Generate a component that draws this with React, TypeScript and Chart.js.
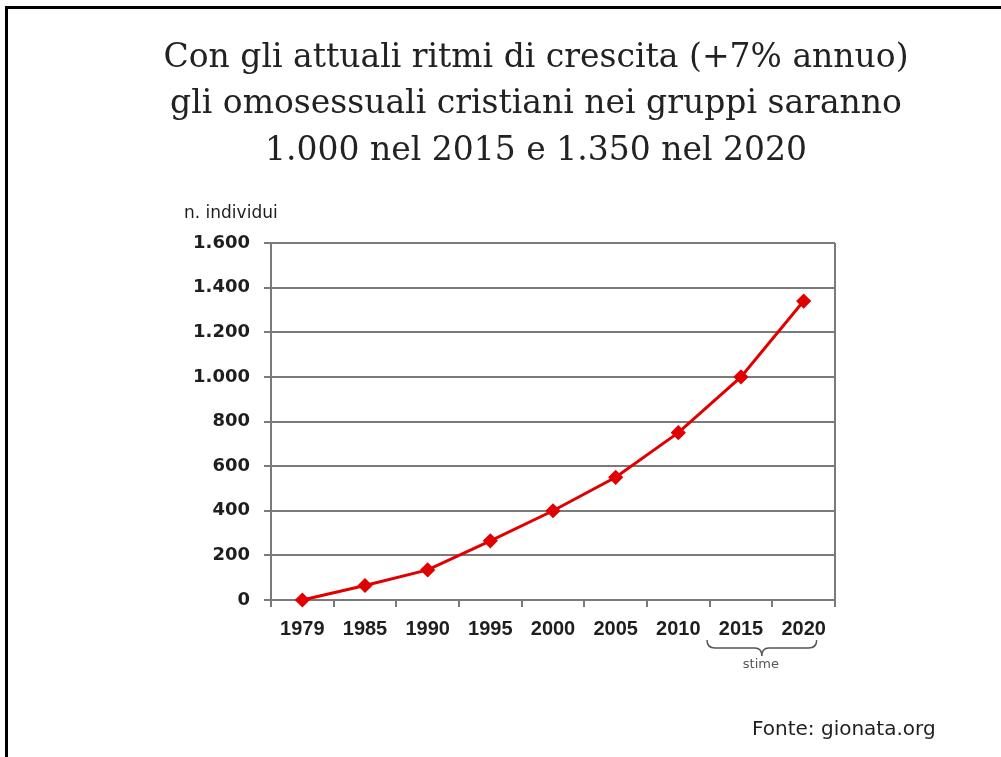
import React, { useEffect, useRef } from "react";
import { Chart, registerables } from "chart.js";

Chart.register(...registerables);

const years = ["1979", "1985", "1990", "1995", "2000", "2005", "2010", "2015", "2020"];
const individuals = [0, 65, 135, 265, 400, 550, 750, 1000, 1340];
const titleLines = [
  "Con gli attuali ritmi di crescita (+7% annuo)",
  "gli omosessuali cristiani nei gruppi saranno",
  "1.000 nel 2015 e 1.350 nel 2020",
];
const yAxisTitle = "n. individui";
const estimateLabel = "stime";
const estimateYears = ["2015", "2020"];
const sourceText = "Fonte: gionata.org";
const yMin = 0;
const yMax = 1600;
const yStep = 200;

const fmt = (v: number) => String(v).replace(/\B(?=(\d{3})+(?!\d))/g, ".");

const GRID = "#7a7a7a";
const TEXT = "#1e1e1e";

const decorPlugin = {
  id: "decor",
  afterDraw(chart: any) {
    const ctx = chart.ctx as CanvasRenderingContext2D;
    const { top, bottom, right } = chart.chartArea;
    const xs = chart.scales.x;
    ctx.save();
    // right frame of the plot area
    ctx.strokeStyle = GRID;
    ctx.lineWidth = 2;
    ctx.beginPath();
    ctx.moveTo(right, top);
    ctx.lineTo(right, bottom);
    ctx.stroke();

    // title
    ctx.fillStyle = "#222";
    ctx.textAlign = "center";
    ctx.textBaseline = "alphabetic";
    ctx.font = '33px "DejaVu Serif"';
    const baselines = [67, 113, 160];
    titleLines.forEach((t, i) => ctx.fillText(t, 536, baselines[i]));

    // y axis title
    ctx.textAlign = "left";
    ctx.font = '17px "DejaVu Sans"';
    ctx.fillStyle = TEXT;
    ctx.fillText(yAxisTitle, 184, 218);

    // brace under estimate years
    const i1 = years.indexOf(estimateYears[0]);
    const i2 = years.indexOf(estimateYears[1]);
    const x1 = xs.getPixelForValue(i1) - 34;
    const x2 = xs.getPixelForValue(i2) + 13;
    const xm = (x1 + x2) / 2;
    const yTop = 640, yMid = 648, yTip = 656;
    ctx.strokeStyle = "#555";
    ctx.lineWidth = 1.5;
    ctx.beginPath();
    ctx.moveTo(x1, yTop);
    ctx.quadraticCurveTo(x1, yMid, x1 + 8, yMid);
    ctx.lineTo(xm - 7, yMid);
    ctx.quadraticCurveTo(xm, yMid, xm, yTip);
    ctx.quadraticCurveTo(xm, yMid, xm + 7, yMid);
    ctx.lineTo(x2 - 8, yMid);
    ctx.quadraticCurveTo(x2, yMid, x2, yTop);
    ctx.stroke();

    ctx.textAlign = "center";
    ctx.fillStyle = "#555";
    ctx.font = '13px "DejaVu Sans"';
    ctx.fillText(estimateLabel, xm - 1, 668);

    // source
    ctx.textAlign = "left";
    ctx.fillStyle = TEXT;
    ctx.font = '20px "DejaVu Sans"';
    ctx.fillText(sourceText, 752, 735);
    ctx.restore();
  },
};

export default function App() {
  const ref = useRef<HTMLCanvasElement | null>(null);
  useEffect(() => {
    if (!ref.current) return;
    const chart = new Chart(ref.current, {
      type: "line",
      data: {
        labels: years,
        datasets: [
          {
            data: individuals,
            borderColor: "#e00000",
            backgroundColor: "#e00000",
            borderWidth: 3,
            pointStyle: "rectRot",
            pointRadius: 5.5,
            pointBackgroundColor: "#e00000",
            pointBorderColor: "#e00000",
            tension: 0,
            clip: false as any,
          },
        ],
      },
      options: {
        animation: false,
        responsive: false,
        devicePixelRatio: 1,
        layout: { padding: { top: 243, left: 0, right: 166, bottom: 0 } },
        plugins: {
          legend: { display: false },
          tooltip: { enabled: false },
          title: { display: false },
        },
        scales: {
          x: {
            type: "category",
            offset: true,
            grid: {
              offset: true,
              drawOnChartArea: false,
              drawTicks: true,
              tickLength: 7,
              color: GRID,
              lineWidth: 2,
            },
            border: { color: GRID, width: 2 },
            ticks: {
              color: TEXT,
              padding: 10,
              maxRotation: 0,
              autoSkip: false,
              font: { family: '"Liberation Sans"', size: 20, weight: "bold" },
            },
            afterFit: (s: any) => {
              s.height = 157;
            },
          },
          y: {
            min: yMin,
            max: yMax,
            grid: {
              color: GRID,
              lineWidth: 2,
              drawTicks: true,
              tickLength: 7,
            },
            border: { color: GRID, width: 2 },
            ticks: {
              stepSize: yStep,
              color: TEXT,
              padding: 14,
              font: { family: '"DejaVu Sans"', size: 18, weight: "bold" },
              callback: (v: any) => fmt(Number(v)),
            },
            afterFit: (s: any) => {
              s.width = 271;
            },
          },
        },
      },
      plugins: [decorPlugin],
    });
    return () => chart.destroy();
  }, []);

  return (
    <div
      style={{
        position: "fixed",
        left: 0,
        top: 0,
        width: 1001,
        height: 757,
        background: "#fff",
        overflow: "hidden",
      }}
    >
      <div
        style={{
          position: "absolute",
          left: 5,
          top: 6,
          width: 2000,
          height: 2000,
          borderTop: "3px solid #000",
          borderLeft: "3px solid #000",
        }}
      />
      <canvas
        ref={ref}
        width={1001}
        height={757}
        style={{ position: "absolute", left: 0, top: 0, width: 1001, height: 757 }}
      />
    </div>
  );
}
